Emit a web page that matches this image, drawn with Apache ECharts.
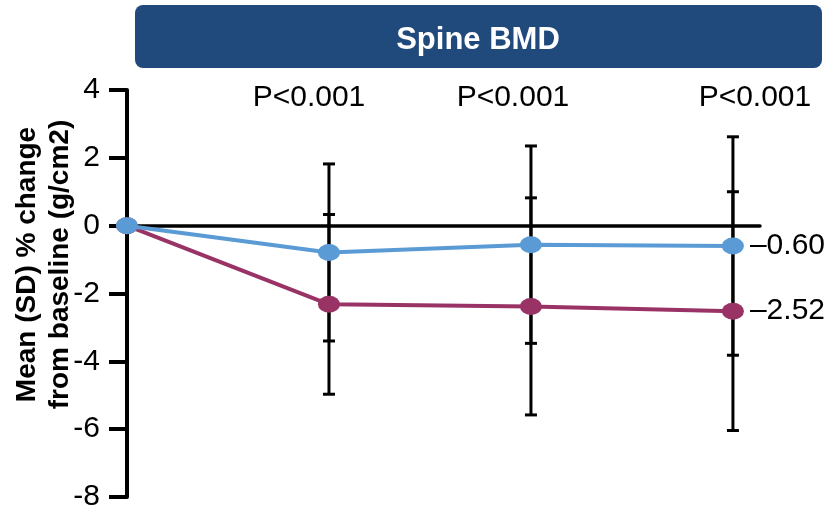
<!DOCTYPE html>
<html><head><meta charset="utf-8">
<script src="https://cdn.jsdelivr.net/npm/echarts@6/dist/echarts.min.js"></script>
<style>html,body{margin:0;padding:0;background:#fff}#c{width:832px;height:509px}</style>
</head><body><div id="c"></div>
<script>
var visits = [0, 1, 2, 3];
var blueMean = [0, -0.79, -0.56, -0.60];
var blueSD = [0, 2.61, 2.91, 3.22];
var magMean = [0, -2.32, -2.38, -2.52];
var magSD = [0, 2.65, 3.20, 3.52];
var pLabels = ['P<0.001', 'P<0.001', 'P<0.001'];
var pVisits = [1, 2, 3];
var pY = [3.76, 3.76, 3.76];
var yTicks = [-8, -6, -4, -2, 0, 2, 4];
var endLabels = ['\u20130.60', '\u20132.52'];
var titleText = 'Spine BMD';
var yName = 'Mean (SD) % change\nfrom baseline (g/cm2)';

var BLUE = '#5B9BD5', MAG = '#993366';
var FONT = 'Liberation Sans, Arial, sans-serif';
var chart = echarts.init(document.getElementById('c'));

function errData(mean, sd) {
  var out = [];
  for (var i = 1; i < visits.length; i++) out.push([visits[i], mean[i] - sd[i], mean[i] + sd[i]]);
  return out;
}
function errRender(params, api) {
  var x = api.value(0), lo = api.value(1), hi = api.value(2);
  var a = api.coord([x, hi]), b = api.coord([x, lo]);
  var w = 6;
  var st = {stroke: '#000', lineWidth: 3};
  return {type: 'group', children: [
    {type: 'line', shape: {x1: a[0], y1: a[1], x2: b[0], y2: b[1]}, style: st},
    {type: 'line', shape: {x1: a[0] - w, y1: a[1], x2: a[0] + w, y2: a[1]}, style: st},
    {type: 'line', shape: {x1: b[0] - w, y1: b[1], x2: b[0] + w, y2: b[1]}, style: st}
  ]};
}
function pairs(xs, ys) { return xs.map(function (x, i) { return [x, ys[i]]; }); }
var pOffsets = [[-20, 0], [-18, 0], [22, 0]];

chart.setOption({
  animation: false,
  textStyle: {fontFamily: FONT},
  graphic: [
    {type: 'rect', left: 135, top: 5, shape: {width: 687, height: 63, r: 8}, style: {fill: '#214A7C'}},
    {type: 'text', x: 478, y: 40, style: {text: titleText, fill: '#fff', font: 'bold 31px ' + FONT, textAlign: 'center', textVerticalAlign: 'middle'}}
  ],
  grid: {left: 127, right: 72, top: 90, bottom: 12, containLabel: false, outerBoundsMode: 'none'},
  xAxis: {
    type: 'value', min: 0, max: 3.134, interval: 1,
    axisLine: {onZero: true, lineStyle: {color: '#000', width: 3.5}},
    axisTick: {show: false}, axisLabel: {show: false}, splitLine: {show: false}
  },
  yAxis: {
    type: 'value', min: -8, max: 4, interval: 2,
    name: yName, nameLocation: 'middle', nameGap: 50, nameRotate: 90, nameMoveOverlap: false,
    nameTextStyle: {fontSize: 28, fontWeight: 'bold', color: '#000', lineHeight: 33, padding: [0, 0, 0, 58]},
    axisLine: {show: true, lineStyle: {color: '#000', width: 4}},
    axisTick: {show: true, length: 18, lineStyle: {color: '#000', width: 4}},
    axisLabel: {color: '#000', fontSize: 30, margin: 27, formatter: function (v) { return String(v); }},
    splitLine: {show: false}
  },
  series: [
    {type: 'custom', renderItem: errRender, data: errData(blueMean, blueSD), z: 1, encode: {x: 0, y: [1, 2]}},
    {type: 'custom', renderItem: errRender, data: errData(magMean, magSD), z: 1, encode: {x: 0, y: [1, 2]}},
    {type: 'line', data: pairs(visits, magMean), z: 3, symbol: 'circle', symbolSize: [22, 17],
      lineStyle: {color: MAG, width: 4}, itemStyle: {color: MAG},
      label: {show: true, position: 'right', distance: 6, fontSize: 30, color: '#000',
        formatter: function (p) { return p.dataIndex === visits.length - 1 ? endLabels[1] : ''; }}},
    {type: 'line', data: pairs(visits, blueMean), z: 4, symbol: 'circle', symbolSize: [22, 17],
      lineStyle: {color: BLUE, width: 4}, itemStyle: {color: BLUE},
      label: {show: true, position: 'right', distance: 6, fontSize: 30, color: '#000',
        formatter: function (p) { return p.dataIndex === visits.length - 1 ? endLabels[0] : ''; }}},
    {type: 'scatter', symbolSize: 0, silent: true, itemStyle: {opacity: 1},
      data: pairs(pVisits, pY).map(function (d, i) {
        return {value: d, label: {show: true, position: 'inside', offset: pOffsets[i], formatter: pLabels[i], fontSize: 30, color: '#000', opacity: 1}};
      })}
  ]
});
</script></body></html>
